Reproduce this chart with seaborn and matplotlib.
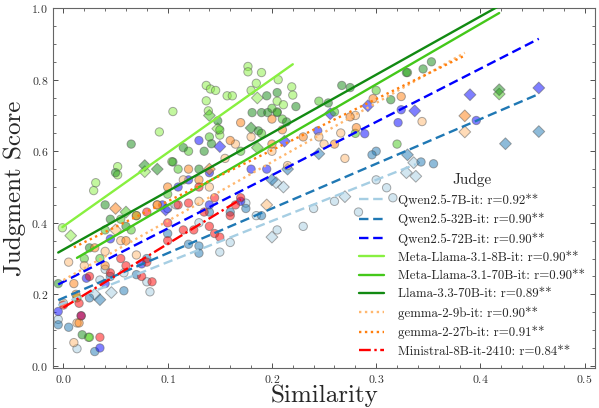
import numpy as np
import pandas as pd
import matplotlib
matplotlib.use("Agg")
import matplotlib.pyplot as plt
from matplotlib.ticker import MultipleLocator
import seaborn as sns

# ---------------- data ----------------
judges = ["Qwen2.5-7B-it", "Qwen2.5-32B-it", "Qwen2.5-72B-it",
          "Meta-Llama-3.1-8B-it", "Meta-Llama-3.1-70B-it", "Llama-3.3-70B-it",
          "gemma-2-9b-it", "gemma-2-27b-it", "Ministral-8B-it-2410"]
r_values = ["0.92", "0.90", "0.90", "0.90", "0.90", "0.89", "0.90", "0.91", "0.84"]
# fitted regression lines
slopes = [1.15, 1.25, 1.49, 2.06, 1.69, 1.63, 1.65, 1.43, 1.78]
intercepts = [0.175, 0.19, 0.235, 0.39, 0.28, 0.325, 0.24, 0.317, 0.163]

# kind: "o" = circle items, "D" = diamond items
qwen7_x = [-0.005, 0.013, 0.035, 0.040, 0.058, 0.080, 0.083, 0.100, 0.108, 0.130, 0.150, 0.160, 0.175,
           0.185, 0.205, 0.230, 0.240, 0.260, 0.283, 0.310, 0.316, 0.300,
           0.030, 0.046, 0.200, 0.270, 0.329, 0.338, 0.336, 0.211, 0.204]
qwen7_y = [0.130, 0.048, 0.240, 0.270, 0.260, 0.235, 0.207, 0.440, 0.450, 0.400, 0.318, 0.345, 0.455,
           0.420, 0.380, 0.390, 0.440, 0.460, 0.430, 0.498, 0.470, 0.520,
           0.200, 0.205, 0.360, 0.473, 0.540, 0.530, 0.568, 0.500, 0.512]
qwen7_k = ["o"] * 22 + ["D"] * 9

qwen32_x = [-0.005, 0.005, 0.030, 0.025, 0.058, 0.070, 0.045, 0.100, 0.120, 0.130, 0.140, 0.175, 0.190,
            0.160, 0.300, 0.296, 0.343, 0.355, 0.080, 0.130,
            0.035, 0.215, 0.330, 0.424, 0.456, 0.200, 0.245]
qwen32_y = [0.115, 0.108, 0.040, 0.190, 0.210, 0.255, 0.250, 0.370, 0.340, 0.335, 0.430, 0.440, 0.420,
            0.430, 0.600, 0.590, 0.570, 0.565, 0.300, 0.315,
            0.185, 0.550, 0.590, 0.621, 0.655, 0.520, 0.593]
qwen32_k = ["o"] * 20 + ["D"] * 7

qwen72_x = [-0.005, 0.035, 0.017, 0.022, 0.045, 0.040, 0.075, 0.095, 0.110, 0.120, 0.140, 0.140, 0.170,
            0.130, 0.180, 0.195, 0.244, 0.289, 0.321, 0.324, 0.396,
            0.098, 0.150, 0.212, 0.256, 0.292, 0.337, 0.390, 0.456]
qwen72_y = [0.152, 0.050, 0.140, 0.245, 0.355, 0.230, 0.285, 0.450, 0.500, 0.520, 0.540, 0.450, 0.460,
            0.630, 0.550, 0.550, 0.657, 0.649, 0.680, 0.716, 0.686,
            0.436, 0.613, 0.628, 0.705, 0.727, 0.713, 0.758, 0.777]
qwen72_k = ["o"] * 21 + ["D"] * 8

llama8_x = [-0.001, 0.029, 0.031, 0.052, 0.052, 0.092, 0.105, 0.104, 0.137, 0.137, 0.139, 0.141, 0.146,
            0.157, 0.162, 0.150, 0.177, 0.177, 0.190, 0.185, 0.180, 0.206, 0.205, 0.205, 0.211, 0.219,
            0.220, 0.024,
            0.007, 0.078, 0.148, 0.186]
llama8_y = [0.386, 0.490, 0.512, 0.534, 0.557, 0.654, 0.711, 0.571, 0.784, 0.741, 0.713, 0.774, 0.770,
            0.755, 0.755, 0.645, 0.837, 0.822, 0.820, 0.790, 0.770, 0.800, 0.740, 0.710, 0.730, 0.780,
            0.757, 0.080,
            0.364, 0.543, 0.663, 0.749]
llama8_k = ["o"] * 28 + ["D"] * 4

llama70_x = [0.013, 0.025, 0.020, 0.035, 0.040, 0.055, 0.065, 0.070, 0.100, 0.110, 0.120, 0.140, 0.150,
             0.170, 0.190, 0.200, 0.210, 0.245, 0.260, 0.280, 0.300, 0.330, 0.320,
             0.418, 0.060, 0.140, 0.186]
llama70_y = [0.190, 0.080, 0.300, 0.300, 0.380, 0.410, 0.380, 0.420, 0.480, 0.550, 0.600, 0.640, 0.660,
             0.600, 0.650, 0.720, 0.690, 0.740, 0.710, 0.650, 0.770, 0.820, 0.620,
             0.760, 0.430, 0.700, 0.610]
llama70_k = ["o"] * 23 + ["D"] * 4

llama33_x = [-0.005, 0.018, 0.025, 0.040, 0.045, 0.060, 0.050, 0.065, 0.105, 0.115, 0.135, 0.130,
             0.142, 0.148, 0.181, 0.195, 0.205, 0.190, 0.196, 0.187, 0.205, 0.214, 0.223, 0.254,
             0.267, 0.275, 0.314, 0.329, 0.345, 0.353,
             0.078, 0.090, 0.180, 0.418]
llama33_y = [0.230, 0.087, 0.330, 0.450, 0.410, 0.390, 0.540, 0.620, 0.570, 0.610, 0.600, 0.550,
             0.621, 0.685, 0.708, 0.755, 0.764, 0.708, 0.708, 0.657, 0.708, 0.682, 0.725, 0.735,
             0.784, 0.778, 0.744, 0.820, 0.830, 0.850,
             0.560, 0.550, 0.665, 0.772]
llama33_k = ["o"] * 30 + ["D"] * 4

gemma9_x = [0.000, 0.010, 0.013, 0.005, 0.020, 0.040, 0.055, 0.070, 0.090, 0.115, 0.130, 0.140,
            0.155, 0.165, 0.180, 0.200, 0.215, 0.245, 0.250, 0.270, 0.280, 0.266, 0.344,
            0.385, 0.195, 0.050]
gemma9_y = [0.175, 0.065, 0.120, 0.290, 0.280, 0.320, 0.350, 0.310, 0.450, 0.520, 0.460, 0.500,
            0.580, 0.620, 0.640, 0.600, 0.560, 0.640, 0.620, 0.580, 0.700, 0.651, 0.683,
            0.654, 0.450, 0.380]
gemma9_k = ["o"] * 23 + ["D"] * 3

gemma27_x = [0.010, 0.012, 0.015, 0.030, 0.040, 0.060, 0.070, 0.090, 0.100, 0.120, 0.130, 0.160,
             0.170, 0.200, 0.210, 0.200, 0.230, 0.260, 0.275, 0.281, 0.297, 0.324,
             0.050, 0.140, 0.385]
gemma27_y = [0.230, 0.200, 0.120, 0.330, 0.280, 0.350, 0.420, 0.450, 0.500, 0.550, 0.520, 0.630,
             0.680, 0.620, 0.660, 0.690, 0.640, 0.620, 0.696, 0.666, 0.747, 0.753,
             0.440, 0.550, 0.699]
gemma27_k = ["o"] * 22 + ["D"] * 3

mistral_x = [0.000, 0.015, 0.017, 0.035, 0.025, 0.045, 0.055, 0.060, 0.075, 0.080, 0.085, 0.100,
             0.110, 0.120, 0.125, 0.135, 0.140, 0.145, 0.150, 0.160, 0.165, 0.170, 0.145, 0.130,
             0.080, 0.100, 0.115]
mistral_y = [0.170, 0.175, 0.140, 0.080, 0.250, 0.260, 0.300, 0.280, 0.250, 0.290, 0.235, 0.400,
             0.450, 0.455, 0.380, 0.430, 0.390, 0.370, 0.360, 0.420, 0.450, 0.470, 0.470, 0.500,
             0.430, 0.350, 0.380]
mistral_k = ["o"] * 27

xs = [qwen7_x, qwen32_x, qwen72_x, llama8_x, llama70_x, llama33_x, gemma9_x, gemma27_x, mistral_x]
ys = [qwen7_y, qwen32_y, qwen72_y, llama8_y, llama70_y, llama33_y, gemma9_y, gemma27_y, mistral_y]
ks = [qwen7_k, qwen32_k, qwen72_k, llama8_k, llama70_k, llama33_k, gemma9_k, gemma27_k, mistral_k]

# ---------------- styles ----------------
colors = ["#a6cee3", "#1f78b4", "#0000ff",
          "#88f040", "#44c81a", "#128a12",
          "#ffb870", "#ff7f0e", "#ff0000"]
linestyles = [(0, (4, 2)), (0, (4, 2)), (0, (4, 2)),
              "-", "-", "-",
              (0, (1, 1.5)), (0, (1, 1.5)), (0, (5, 1.5, 1, 1.5))]

rows = []
for j, x, y, k in zip(judges, xs, ys, ks):
    for a, b, c in zip(x, y, k):
        rows.append((j, a, b, c))
df = pd.DataFrame(rows, columns=["Judge", "Similarity", "Judgment Score", "kind"])

sns.set_theme(style="ticks")
plt.rcParams["font.family"] = "serif"
plt.rcParams["font.serif"] = ["cmr10"]
plt.rcParams["mathtext.fontset"] = "cm"
plt.rcParams["axes.formatter.use_mathtext"] = True

fig = plt.figure(figsize=(5.99, 4.08), dpi=100)
ax = fig.add_axes([0.0885, 0.098, 0.905, 0.882])

sns.scatterplot(data=df, x="Similarity", y="Judgment Score", hue="Judge", style="kind",
                markers={"o": "o", "D": "D"}, palette=dict(zip(judges, colors)),
                alpha=0.5, edgecolor="#555555", linewidth=0.7, s=36, legend=False, ax=ax,
                zorder=2)

for j, x, sl, ic, col, ls, r in zip(judges, xs, slopes, intercepts, colors, linestyles, r_values):
    xx = np.array([min(x), max(x)])
    ax.plot(xx, sl * xx + ic, color=col, linestyle=ls, linewidth=1.7,
            label=f"{j}: r={r}**", zorder=3)

ax.set_xlim(-0.01, 0.51)
ax.set_ylim(-0.006, 1.0)
ax.xaxis.set_major_locator(MultipleLocator(0.1))
ax.xaxis.set_minor_locator(MultipleLocator(0.02))
ax.yaxis.set_major_locator(MultipleLocator(0.2))
ax.yaxis.set_minor_locator(MultipleLocator(0.05))
ax.tick_params(which="both", direction="in", top=True, right=True, labelsize=8.5,
               colors="#333333")
ax.tick_params(which="major", length=3.5, width=0.6)
ax.tick_params(which="minor", length=2, width=0.5)
for sp in ax.spines.values():
    sp.set_color("#666666")
    sp.set_linewidth(0.8)

ax.set_xlabel("Similarity", fontsize=18, labelpad=0)
ax.set_ylabel("Judgment Score", fontsize=18, labelpad=4)

leg = ax.legend(title="Judge", loc="lower right", frameon=False, fontsize=9.3,
                title_fontsize=11, handlelength=1.95, labelspacing=0.47,
                borderaxespad=0.4, handletextpad=1.05)

fig.savefig("out.png", dpi=100)
